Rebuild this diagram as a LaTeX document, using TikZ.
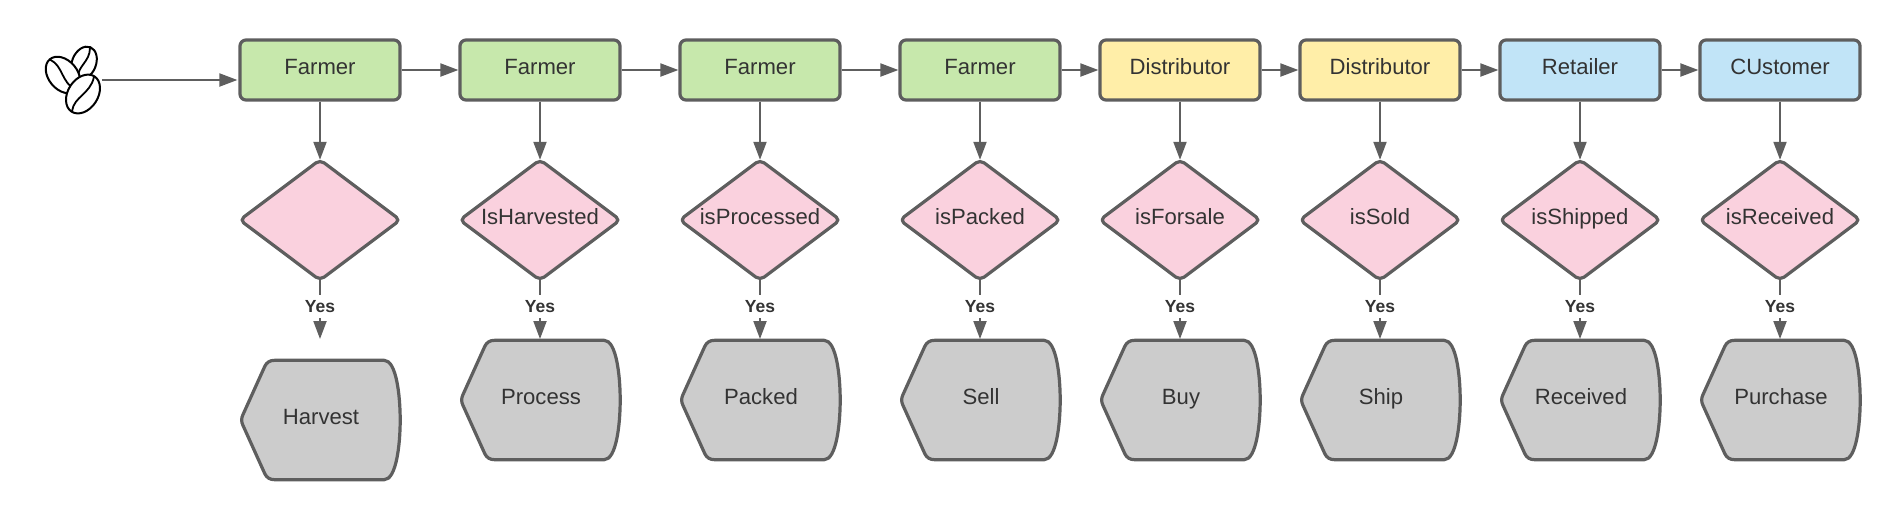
\documentclass[tikz,border=0pt]{standalone}
\usepackage{fontspec}
\setmainfont{Liberation Sans}
\usetikzlibrary{arrows.meta}
\definecolor{gr}{HTML}{C7E8AC}
\definecolor{yl}{HTML}{FFEEA8}
\definecolor{bl}{HTML}{C1E4F7}
\definecolor{pk}{HTML}{FAD1DE}
\definecolor{gy}{HTML}{CCCCCC}
\definecolor{ln}{HTML}{5E5E5E}
\definecolor{tx}{HTML}{333333}
\tikzset{
  x=1pt,y=-1pt,
  outline/.style={draw=ln,line width=3.2pt,line join=round},
  label text/.style={text=tx,font=\fontsize{22.1}{26}\selectfont,text height=12pt,text depth=4pt,inner sep=0pt},
  actor/.style={label text,outline,rounded corners=6pt,minimum width=160pt,minimum height=60pt},
  decision/.style={label text,minimum width=160pt,minimum height=120pt},
  action/.style={label text,minimum width=158pt,minimum height=119pt},
  conn/.style={draw=ln,line width=2pt,-{Triangle[length=18pt,width=13pt]}},
  yes/.style={fill=white,text=tx,font=\bfseries\fontsize{17.5}{20}\selectfont,inner sep=0pt,minimum width=35pt,minimum height=23pt},
  bean/.style={draw=black,line width=2pt,fill=white},
  crease/.style={draw=black,line width=1.8pt},
}
\begin{document}
\begin{tikzpicture}
\useasboundingbox (0,0) rectangle (1900,520);
% beans
\node[minimum width=80pt,minimum height=80pt,inner sep=0pt] (beans) at (62,80) {};
\begin{scope}[shift={(84,63)},rotate=68]
  \draw[bean] (0,0) ellipse [x radius=17,y radius=12];
  \draw[crease] (-16,0) .. controls (-5,-5) and (3,5) .. (16,0);
\end{scope}
\begin{scope}[shift={(63,75)},rotate=-50]
  \draw[bean] (0,0) ellipse [x radius=20.5,y radius=14.5];
  \draw[crease] (-20,0) .. controls (-7,-6) and (4,6) .. (20,0);
\end{scope}
\begin{scope}[shift={(83,94)},rotate=57]
  \draw[bean] (0,0) ellipse [x radius=21,y radius=15];
  \draw[crease] (-20,0) .. controls (-7,-6) and (4,6) .. (20,0);
\end{scope}
% columns
\foreach \i/\x/\a/\c/\d/\e/\ey in {
  1/320/Farmer/gr//Harvest/420,
  2/540/Farmer/gr/IsHarvested/Process/400,
  3/760/Farmer/gr/isProcessed/Packed/400,
  4/980/Farmer/gr/isPacked/Sell/400,
  5/1180/Distributor/yl/isForsale/Buy/400,
  6/1380/Distributor/yl/isSold/Ship/400,
  7/1580/Retailer/bl/isShipped/Received/400,
  8/1780/CUstomer/bl/isReceived/Purchase/400}{
  \node[actor,fill=\c] (n\i) at (\x,70) {\a};
  \node[decision] (d\i) at (\x,220) {};
  \draw[outline,fill=pk,rounded corners=5pt]
    (d\i.north) -- (d\i.east) -- (d\i.south) -- (d\i.west) -- cycle;
  \node[label text] (dt\i) at (d\i.center) {\d};
  \node[action] (e\i) at (\x+1,\ey) {};
  \draw[outline,fill=gy]
    ([xshift=33pt]e\i.north west) -- ([xshift=-16pt]e\i.north east)
    .. controls ([xshift=-4pt]e\i.north east) and ([yshift=25pt]e\i.east) .. (e\i.east)
    .. controls ([yshift=-25pt]e\i.east) and ([xshift=-4pt]e\i.south east) .. ([xshift=-16pt]e\i.south east)
    -- ([xshift=33pt]e\i.south west)
    .. controls ([xshift=28pt]e\i.south west) and ([xshift=25pt,yshift=2pt]e\i.south west) .. ([xshift=23pt,yshift=6pt]e\i.south west)
    -- ([xshift=1pt,yshift=-5pt]e\i.west)
    .. controls ([xshift=-0.5pt,yshift=-2pt]e\i.west) and ([xshift=-0.5pt,yshift=2pt]e\i.west) .. ([xshift=1pt,yshift=5pt]e\i.west)
    -- ([xshift=23pt,yshift=-6pt]e\i.north west)
    .. controls ([xshift=25pt,yshift=-2pt]e\i.north west) and ([xshift=28pt]e\i.north west) .. ([xshift=33pt]e\i.north west) -- cycle;
  \node[label text] (et\i) at (e\i.center) {\e};
  \draw[conn] (n\i.south) -- (d\i.north);
  \coordinate (t\i) at (\x,339);
  \draw[conn] (d\i.south) -- (t\i) node[yes,pos=0.45] (y\i) {Yes};
}
\draw[conn,shorten >=1pt] (beans.east) -- (n1.west|-beans);
\foreach \a/\b in {1/2,2/3,3/4,4/5,5/6,6/7,7/8}{
  \draw[conn] (n\a.east) -- (n\b.west);
}
\end{tikzpicture}
\end{document}
